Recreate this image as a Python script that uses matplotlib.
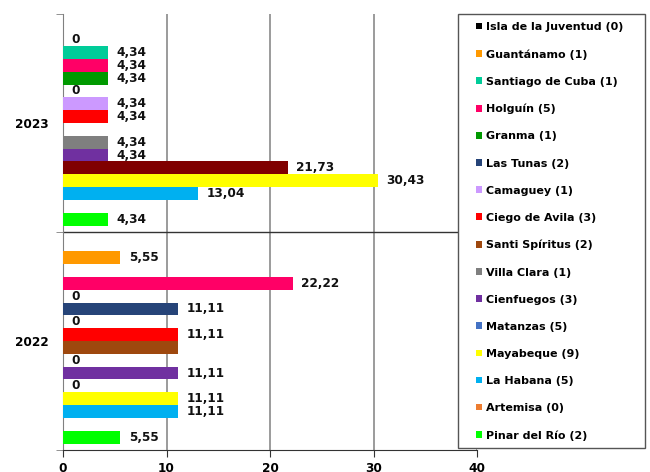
import numpy as np
import matplotlib
matplotlib.use("Agg")
import matplotlib.pyplot as plt
from matplotlib.patches import Patch, Rectangle

plt.rcParams['font.family'] = ['DejaVu Sans']

years = ["2022", "2023"]
# series listed bottom (first) to top (last) inside each group
series = ["Pinar del Río (2)", "Artemisa (0)", "La Habana (5)", "Mayabeque (9)",
          "Matanzas (5)", "Cienfuegos (3)", "Villa Clara (1)", "Santi Spíritus (2)",
          "Ciego de Avila (3)", "Camaguey (1)", "Las Tunas (2)", "Granma (1)",
          "Holguín (5)", "Santiago de Cuba (1)", "Guantánamo (1)", "Isla de la Juventud (0)"]
colors = ["#00FF00", "#ED7D31", "#00B0F0", "#FFFF00",
          "#4472C4", "#7030A0", "#7F7F7F", "#9E480E",
          "#FF0000", "#CC99FF", "#264478", "#009900",
          "#FF0066", "#00CC99", "#FF9900", "#000000"]
nan = np.nan
vals_2022 = [5.55, nan, 11.11, 11.11, 0, 11.11, 0, 11.11,
             11.11, 0, 11.11, 0, 22.22, nan, 5.55, nan]
vals_2023 = [4.34, nan, 13.04, 30.43, 21.73, 4.34, 4.34, nan,
             4.34, 4.34, 0, 4.34, 4.34, 4.34, 0, nan]
# individual point colour overrides (series index, year index)
point_colors = {(4, 1): "#800000"}
hidden_labels = {(7, 0)}
xticks = [0, 10, 20, 30, 40]

W, H = 650, 472
fig = plt.figure(figsize=(W / 100, H / 100), dpi=100)
ax = fig.add_axes([63 / W, 1 - 450 / H, (477 - 63) / W, (450 - 14) / H])

n = len(series)
h = 1.0 / (n + 1)
data = [vals_2022, vals_2023]
for yi in range(len(years)):
    for si in range(n):
        v = data[yi][si]
        if np.isnan(v):
            continue
        yc = yi - 0.5 + h * (si + 1)
        c = point_colors.get((si, yi), colors[si])
        ax.barh(yc, v, height=h, color=c, edgecolor='none', zorder=3)
        if (si, yi) in hidden_labels:
            continue
        txt = "0" if v == 0 else f"{v:.2f}".replace('.', ',')
        ax.annotate(txt, (v, yc), xytext=(6, 0), textcoords='offset points',
                    ha='left', va='center', fontsize=8.7, fontweight='bold',
                    color='#111111', zorder=4)

ax.set_xlim(0, 40)
ax.set_ylim(-0.5, 1.5)
ax.set_xticks(xticks)
ax.set_xticklabels([str(t) for t in xticks], fontsize=8.7, fontweight='bold')
ax.set_yticks([0, 1])
ax.set_yticklabels(years, fontsize=8.7, fontweight='bold')
ax.set_yticks([-0.5, 0.5, 1.5], minor=True)
ax.tick_params(axis='y', which='major', length=0, pad=10)
ax.tick_params(axis='y', which='minor', length=5, color='#808080', direction='out')
ax.tick_params(axis='x', length=5, color='#333333', direction='out', pad=4)
ax.grid(axis='x', color='#808080', linewidth=1.1, zorder=0)
ax.axhline(0.5, color='#333333', linewidth=1, zorder=1)
for s in ['top', 'right']:
    ax.spines[s].set_visible(False)
ax.spines['left'].set_color('#808080')
ax.spines['bottom'].set_color('#333333')
ax.set_axisbelow(True)

# legend box
box = Rectangle((457.5 / W, 1 - 448 / H), (645 - 457.5) / W, (448 - 13.5) / H,
                transform=fig.transFigure, facecolor='white', edgecolor='#555555',
                linewidth=1, zorder=5)
fig.patches.append(box)
handles = [Patch(facecolor=colors[i], edgecolor='none', label=series[i])
           for i in range(n - 1, -1, -1)]
leg = fig.legend(handles=handles, loc='upper left',
                 bbox_to_anchor=(476 / W, 1 - 22 / H), frameon=False,
                 prop={'weight': 'bold', 'size': 8},
                 handlelength=0.55, handleheight=0.55, handletextpad=0.35,
                 labelspacing=1.54, borderpad=0, borderaxespad=0)
leg.set_zorder(6)

fig.savefig("out.png", dpi=100)
